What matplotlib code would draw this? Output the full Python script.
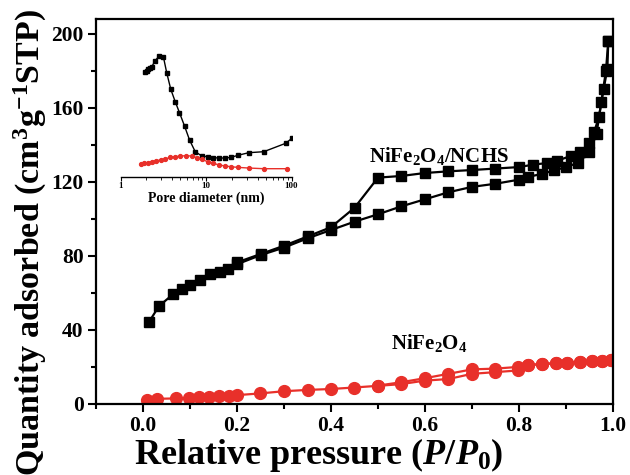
import numpy as np
import matplotlib
matplotlib.use("Agg")
import matplotlib.pyplot as plt
from matplotlib.ticker import MultipleLocator, LogLocator, NullFormatter, FixedFormatter, FixedLocator

plt.rcParams['font.family'] = ['Liberation Serif', 'DejaVu Serif']
plt.rcParams['font.weight'] = 'bold'
plt.rcParams['mathtext.fontset'] = 'custom'
plt.rcParams['mathtext.rm'] = 'Liberation Serif:bold'
plt.rcParams['mathtext.bf'] = 'Liberation Serif:bold'
plt.rcParams['mathtext.it'] = 'Liberation Serif:italic:bold'

# NiFe2O4/NCHS isotherm (adsorption and desorption branches)
nchs_ads_p = [0.013, 0.034, 0.064, 0.082, 0.099, 0.121, 0.142, 0.163, 0.18, 0.2, 0.25, 0.30,
              0.35, 0.40, 0.45, 0.50, 0.55, 0.60, 0.65, 0.70, 0.75, 0.80, 0.82, 0.85, 0.875,
              0.90, 0.925, 0.95, 0.965, 0.975, 0.985, 0.99]
nchs_ads_q = [44.4, 52.9, 59.3, 61.9, 64.2, 66.9, 70.1, 71.4, 72.8, 75.5, 80.4, 84.5,
              89.5, 94.0, 98.5, 102.5, 106.8, 110.6, 114.4, 117.3, 119.0, 121.2, 122.7, 124.4, 126.2,
              128.0, 130.2, 136.0, 146.0, 163.0, 180.0, 196.0]
nchs_des_p = [0.99, 0.988, 0.98, 0.97, 0.96, 0.95, 0.93, 0.91, 0.88, 0.86, 0.83, 0.80, 0.75,
              0.70, 0.65, 0.60, 0.55, 0.50, 0.45, 0.40, 0.35, 0.30, 0.25, 0.20]
nchs_des_q = [196.0, 181.0, 170.0, 155.0, 147.0, 141.0, 136.0, 134.0, 131.3, 130.2, 129.3, 128.0, 127.2,
              126.4, 125.7, 124.8, 123.2, 122.3, 106.0, 95.5, 90.5, 85.5, 81.0, 76.5]

# NiFe2O4 isotherm
nfo_ads_p = [0.0095, 0.029, 0.070, 0.097, 0.119, 0.141, 0.162, 0.182, 0.201, 0.249, 0.300, 0.350,
             0.40, 0.449, 0.499, 0.548, 0.599, 0.65, 0.70, 0.749, 0.797, 0.82, 0.848, 0.878,
             0.903, 0.929, 0.955, 0.977, 0.995]
nfo_ads_q = [2.0, 2.8, 3.0, 3.3, 3.7, 3.9, 4.3, 4.4, 4.8, 5.7, 6.9, 7.6,
             8.1, 8.9, 9.8, 10.7, 12.6, 13.5, 16.3, 17.2, 18.1, 20.9, 21.5, 21.9,
             22.2, 22.6, 23.0, 23.3, 23.7]
nfo_des_p = [0.995, 0.977, 0.955, 0.929, 0.903, 0.878, 0.848, 0.82, 0.797, 0.749, 0.70, 0.65,
             0.599, 0.548, 0.499]
nfo_des_q = [23.7, 23.4, 23.1, 22.8, 22.4, 22.1, 21.7, 21.1, 20.0, 19.1, 18.7, 16.3,
             13.9, 11.7, 9.9]

# pore size distributions (arbitrary units)
psd_nchs_d = [1.93, 2.02, 2.11, 2.21, 2.31, 2.53, 2.84, 3.17, 3.47, 3.86, 4.35, 4.88, 5.59, 6.40,
              7.46, 8.93, 10.4, 12.2, 14.3, 16.8, 19.6, 23.4, 31.6, 47.3, 85.1, 101.0]
psd_nchs_v = [3.15, 3.18, 3.22, 3.26, 3.30, 3.48, 3.63, 3.58, 3.10, 2.62, 2.25, 1.92, 1.52, 1.10,
              0.75, 0.62, 0.60, 0.57, 0.56, 0.56, 0.58, 0.64, 0.72, 0.75, 1.00, 1.15]
psd_nfo_d = [1.72, 1.88, 2.06, 2.31, 2.60, 2.95, 3.32, 3.80, 4.35, 4.97, 5.85, 6.82, 7.80, 8.93,
             10.4, 12.2, 14.3, 16.8, 19.6, 23.4, 31.6, 47.3, 88.9]
psd_nfo_v = [0.38, 0.40, 0.42, 0.45, 0.48, 0.50, 0.53, 0.58, 0.60, 0.62, 0.63, 0.62, 0.57, 0.52,
             0.45, 0.40, 0.35, 0.32, 0.30, 0.28, 0.26, 0.24, 0.24]

red = '#e8302a'

fig = plt.figure(figsize=(6.3, 4.75), dpi=100)
ax = fig.add_axes([0.1524, 0.1495, 0.8206, 0.8105])

ax.plot(nchs_ads_p, nchs_ads_q, 's-', color='black', ms=7.5, lw=1.6)
ax.plot(nchs_des_p, nchs_des_q, 's-', color='black', ms=7.5, lw=1.6)
ax.plot(nfo_ads_p, nfo_ads_q, 'o-', color=red, ms=8.5, lw=1.6)
ax.plot(nfo_des_p, nfo_des_q, 'o-', color=red, ms=8.5, lw=1.6)

ax.set_xlim(-0.1, 1.0)
ax.set_ylim(0, 208)
ax.xaxis.set_major_locator(MultipleLocator(0.2))
ax.xaxis.set_minor_locator(MultipleLocator(0.1))
ax.yaxis.set_major_locator(MultipleLocator(40))
ax.yaxis.set_minor_locator(MultipleLocator(20))
ax.set_xticks([0.0, 0.2, 0.4, 0.6, 0.8, 1.0])
ax.set_xticklabels(['0.0', '0.2', '0.4', '0.6', '0.8', '1.0'])
ax.tick_params(which='major', direction='out', length=6, width=1.5, labelsize=15.5, pad=3)
ax.tick_params(which='minor', direction='out', length=3.5, width=1.5)
for s in ax.spines.values():
    s.set_linewidth(1.6)

ax.set_xlabel(r'Relative pressure ($\mathit{P/P_0}$)', fontsize=26, fontweight='bold')
ax.xaxis.set_label_coords(0.43, -0.082)
ax.set_ylabel(r'Quantity adsorbed (cm$^3$g$^{-1}$STP)', fontsize=24.5, fontweight='bold')
ax.yaxis.set_label_coords(-0.09, 0.42)

ax.text(0.63, 134, r'NiFe$_2$O$_4$/NCHS', fontsize=15, fontweight='bold', ha='center', va='center')
ax.text(0.61, 33, r'NiFe$_2$O$_4$', fontsize=15, fontweight='bold', ha='center', va='center')

# inset: pore size distribution
ins = fig.add_axes([0.1916, 0.628, 0.2711, 0.2807])
ins.plot(psd_nchs_d, psd_nchs_v, 's-', color='black', ms=2.8, lw=1.0)
ins.plot(psd_nfo_d, psd_nfo_v, 'o-', color=red, ms=2.8, lw=1.0)
ins.set_xscale('log')
ins.set_xlim(1, 100)
ins.set_ylim(0, 4.0)
ins.patch.set_alpha(0)
for side in ['left', 'right', 'top']:
    ins.spines[side].set_visible(False)
ins.spines['bottom'].set_linewidth(1.0)
ins.set_yticks([])
ins.xaxis.set_major_locator(FixedLocator([1, 10, 100]))
ins.xaxis.set_major_formatter(FixedFormatter(['1', '10', '100']))
ins.xaxis.set_minor_locator(LogLocator(base=10, subs=np.arange(2, 10)))
ins.xaxis.set_minor_formatter(NullFormatter())
ins.tick_params(which='major', direction='out', length=3, width=0.8, labelsize=6.5, pad=1)
ins.tick_params(which='minor', direction='out', length=1.8, width=0.6)
ins.set_xlabel('Pore diameter (nm)', fontsize=10, fontweight='bold', labelpad=1)

fig.savefig('out.png', dpi=100)
